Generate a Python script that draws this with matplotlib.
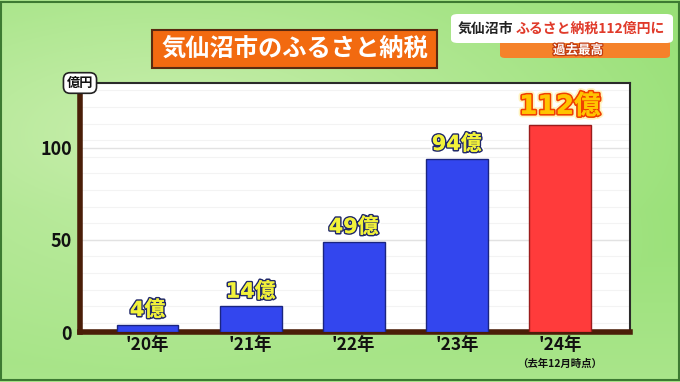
import numpy as np
import matplotlib
matplotlib.use("Agg")
import matplotlib.pyplot as plt
import matplotlib.patheffects as pe
from matplotlib.patches import FancyBboxPatch, Rectangle

plt.rcParams['font.family'] = ['Noto Sans CJK JP', 'DejaVu Sans']

years = ["'20年", "'21年", "'22年", "'23年", "'24年"]
values = [4, 14, 49, 94, 112]
value_labels = ["4億", "14億", "49億", "94億", "112億"]
highlight = [False, False, False, False, True]
yticks = [0, 50, 100]

W, H = 680, 382
fig = plt.figure(figsize=(W / 100, H / 100), dpi=100)

# green background
bg = fig.add_axes([0, 0, 1, 1])
yy, xx = np.mgrid[0:1:200j, 0:1:300j]
c_top = np.array([0.60, 0.88, 0.47])
c_light = np.array([0.84, 0.95, 0.74])
t = np.clip(1 - np.hypot((xx - 0.25) * 1.2, (yy - 0.35) * 1.6), 0, 1) * 0.8
t += np.clip(yy - 0.55, 0, 1) * 0.6
t = np.clip(t, 0, 1)[..., None]
img = c_top * (1 - t) + c_light * t
bg.imshow(img, extent=[0, 1, 0, 1], aspect='auto', origin='upper')
bg.add_patch(Rectangle((0.002, 0.004), 0.996, 0.992, fill=False,
                       ec='#3d7a32', lw=1.5))
bg.set_xlim(0, 1)
bg.set_ylim(0, 1)
bg.axis('off')


def px(x, y):
    return x / W, 1 - y / H


# title box
x0, y0 = px(152, 68)
x1, y1 = px(437, 30)
bg.add_patch(Rectangle((x0, y0), x1 - x0, y1 - y0, fc='#f26a10', ec='#5a2a10', lw=1.5))
bg.text((x0 + x1) / 2, (y0 + y1) / 2, "気仙沼市のふるさと納税", color='white',
        fontsize=17.5, fontweight='bold', ha='center', va='center')

# top-right caption
x0, y0 = px(500, 58)
x1, y1 = px(670, 38)
bg.add_patch(FancyBboxPatch((x0, y0), x1 - x0, y1 - y0, boxstyle='round,pad=0,rounding_size=0.008',
                            fc='#f5822a', ec='none'))
bg.text(px(578, 0)[0], px(0, 50.5)[1], "過去最高", color='white', fontsize=9,
        fontweight='bold', ha='center', va='center',
        path_effects=[pe.withStroke(linewidth=1.8, foreground='#c03a10')])
x0, y0 = px(451, 43)
x1, y1 = px(673, 14)
bg.add_patch(FancyBboxPatch((x0, y0), x1 - x0, y1 - y0, boxstyle='round,pad=0,rounding_size=0.01',
                            fc='white', ec='none'))
bg.text(px(458, 0)[0], px(0, 29)[1], "気仙沼市", color='#222222', fontsize=10,
        fontweight='bold', ha='left', va='center')
bg.text(px(516, 0)[0], px(0, 29)[1], "ふるさと納税112億円に", color='#e03a2a', fontsize=10,
        fontweight='bold', ha='left', va='center')

# chart
L, R, T, B = 80, 630, 83, 332
ax = fig.add_axes([L / W, 1 - B / H, (R - L) / W, (B - T) / H])
ax.set_facecolor('white')
x = np.arange(len(values))
ax.set_xlim(-0.655, 4.68)
ax.set_ylim(0, 135)

for g in range(5, 135, 9):
    ax.axhline(g, color='#f3f3f3', lw=0.8, zorder=0)
for g in yticks[1:]:
    ax.axhline(g, color='#e2e2e2', lw=1.0, zorder=0)

colors = ['#ff3b3b' if h else '#3346ee' for h in highlight]
edges = ['#9a1c1c' if h else '#1a2580' for h in highlight]
bars = ax.bar(x, values, width=0.6, color=colors, edgecolor=edges, linewidth=1.0, zorder=3)

# diagonal sheen on each bar
for b, h in zip(bars, highlight):
    bx, bw, bh = b.get_x(), b.get_width(), b.get_height()
    shade = '#ff7070' if h else '#5a6cff'
    d = min(bh * 0.6, 60)
    ax.fill([bx + bw * 0.08, bx + bw, bx + bw, bx + bw * 0.08 + bw * 0.92],
            [bh, bh, bh - d, bh], color=shade, alpha=0.35, lw=0, zorder=4)

lab_font = ['DejaVu Sans', 'Noto Sans CJK JP']
for xi, v, lab, h in zip(x, values, value_labels, highlight):
    if h:
        ax.text(xi, v + 3, lab, ha='center', va='bottom', fontsize=19, fontweight='bold',
                family=lab_font, color='#ffc400', zorder=5,
                path_effects=[pe.withStroke(linewidth=5, foreground='#fff4c0'),
                              pe.withStroke(linewidth=2.5, foreground='#f04000'),
                              pe.Normal()])
    else:
        ax.text(xi, v + 2.5, lab, ha='center', va='bottom', fontsize=15, fontweight='bold',
                family=lab_font, color='#f2f23a', zorder=5,
                path_effects=[pe.withStroke(linewidth=4.5, foreground='white'),
                              pe.withStroke(linewidth=2.2, foreground='#20286a'),
                              pe.Normal()])

ax.set_yticks(yticks)
ax.set_yticklabels([str(v) for v in yticks], fontsize=13, fontweight='bold', color='#111111')
ax.set_xticks(x)
ax.set_xticklabels(years, fontsize=12.5, fontweight='bold', color='#111111')
ax.tick_params(length=0, pad=6)
ax.tick_params(axis='x', pad=3)
ax.text(4, -17.5, "（去年12月時点）", ha='center', va='center', fontsize=7.5,
        fontweight='bold', color='#111111', clip_on=False)

for s in ['top', 'right']:
    ax.spines[s].set_color('#2a2a2a')
    ax.spines[s].set_linewidth(1.5)
for s in ['left', 'bottom']:
    ax.spines[s].set_color('#4a1e08')
    ax.spines[s].set_linewidth(4)

# unit label
ax.text(0, 1.0, "億円", transform=ax.transAxes, ha='center', va='center', fontsize=9.5,
        fontweight='bold', color='#111111', zorder=6, clip_on=False,
        bbox=dict(boxstyle='round,pad=0.25,rounding_size=0.5', fc='white', ec='#222222', lw=1.2))

fig.savefig("out.png", dpi=100)
